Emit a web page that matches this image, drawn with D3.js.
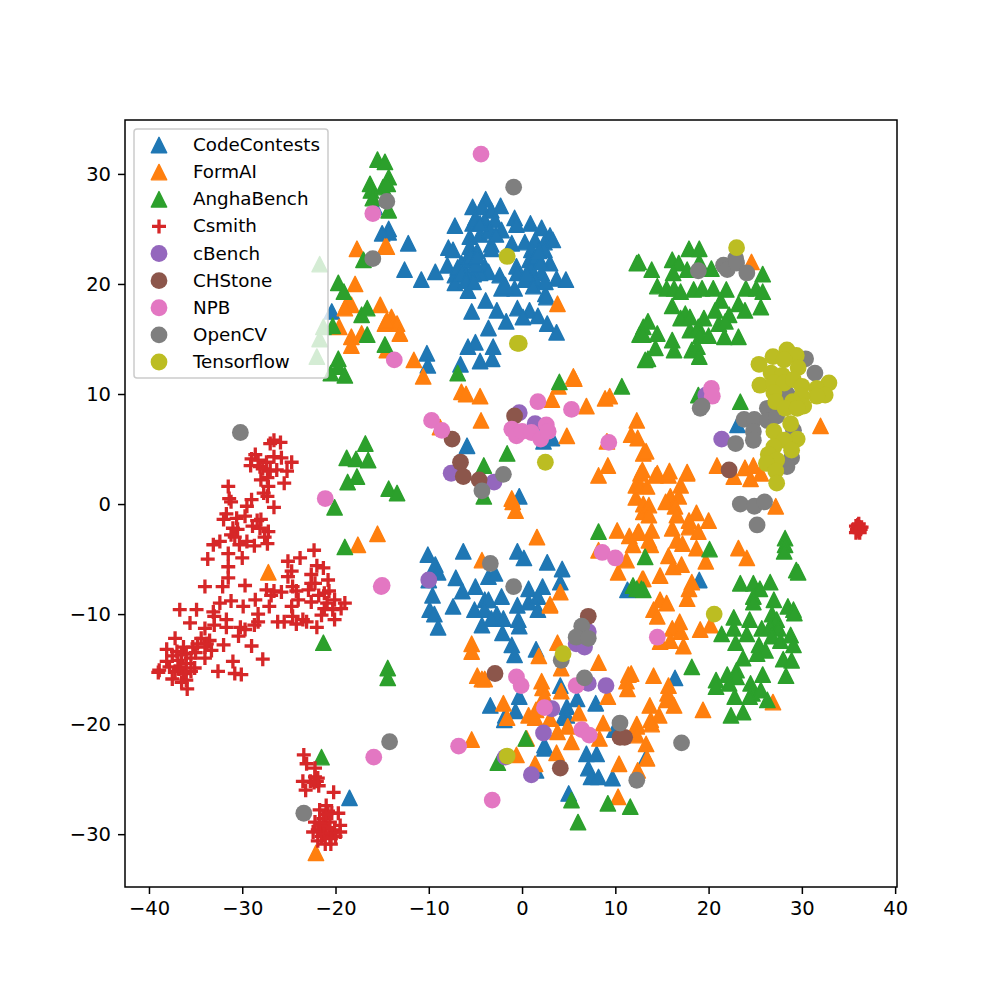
<!DOCTYPE html>
<html>
<head>
<meta charset="utf-8">
<script src="https://cdn.jsdelivr.net/npm/d3@7"></script>
<style>
  body { margin: 0; background: #fff; }
  text { font-family: "DejaVu Sans", sans-serif; fill: #000; }
</style>
</head>
<body>
<svg id="chart" width="997" height="997"></svg>
<script>
// values, [x, y] per point
const codeContests = [[-7.2,25.3],[-5.3,27],[-3.9,27.7],[-2.3,27.1],[-4.3,27],[-3.3,26.7],[-5.3,25.5],[-4,25.8],[-2.9,25.8],[-2.2,24.9],[-0.8,26],[-0.6,25.4],[0.9,25.5],[2.1,25.1],[3,24.4],[3.3,24],[-7.9,23.3],[-7.4,23.1],[-5.6,24.3],[-5.6,23.4],[-3.3,23.6],[-3.3,23.2],[-1.1,23.7],[0.3,23.8],[1.4,24],[2.4,23.8],[1,23.1],[2.4,23.1],[-8,21.7],[-6.5,21.9],[-5.4,22.2],[-6.3,21.3],[-7.2,20.8],[-7.2,20.1],[-4,21.6],[-3.6,21.1],[-2.4,20.8],[-2.2,19.6],[-0.8,19.6],[-5.8,19.4],[-0.6,21.6],[-0.5,21],[0.8,22.2],[1,21.4],[3,21.9],[2.1,21],[1.4,20.4],[0.3,20.4],[3.7,20.5],[4.7,20.4],[-12.2,23.7],[-12.6,21.3],[-10.8,20.4],[-9.3,21.1],[2.5,19.1],[2.6,18.8],[-3.9,18.5],[-5.4,17.5],[-2.7,17.6],[-0.5,17.8],[0.8,17.6],[0.1,17],[1.7,17.1],[-1.7,16.6],[2.7,16.4],[3.7,15.6],[-3.6,16],[-5,14.7],[-5.8,14.3],[-3.1,14.3],[-3.2,13.2],[-4.5,13],[-6.6,12.7],[-10.2,13.7],[-10.1,12.6],[-14.3,25],[-14.3,24.7],[-4.5,24.5],[-3.5,24.8],[-4.8,23],[-5.9,22.3],[-4.5,21],[-5.2,20.9],[-6,21],[-6.9,21.5],[-15,24.6],[-15.8,27],[-20.4,17.5],
  [-5,26],[-3.5,25],[-4.5,25.5],[-2.8,24.5],[-5.5,22.5],[-5,21.8],[-4.8,22.5],[-6.5,21],[-6,20.3],[-5.2,20.2],[1.5,22.5],[2,22],[1.8,23],[0.5,21],[1.2,19.8],[2.5,20.2],[-1.8,19.9],
  [-10.1,-4.6],[-9.3,-5.5],[-9,-6.2],[-6.3,-4.3],[-0.5,-4.3],[0.2,-4.9],[2.7,-5.3],[4.3,-5.9],[4.1,-7.1],[-10,-6.9],[-7.1,-6.7],[-6.4,-7.9],[-5,-7.5],[-9.6,-8.3],[-7.4,-9.3],[-9.9,-9.6],[-9.4,-10],[-9,-11.2],[-3.6,-6.6],[-2.9,-6.3],[-2.2,-8.4],[-4,-8.7],[-3.6,-8.7],[-5.1,-9.6],[-4,-9.6],[-2.7,-10],[-3.3,-10.4],[-2,-10.4],[-4.3,-11],[-0.5,-9.2],[0.7,-7.7],[0.7,-8.9],[2.2,-7.5],[1.7,-8.4],[1.7,-9.6],[-0.4,-10.5],[-0.3,-11.1],[11.3,-7.8],[-0.3,0.7],[-5.9,5.3],[2.3,5.7],[3.2,6],
  [-2.1,-11.7],[-1.1,-12.8],[-0.8,-13.7],[1.5,-13.2],[4.1,-16.5],[-3.4,-18.3],[-0.3,-17.5],[-0.7,-18.8],[-1.8,-19.2],[-1.9,-19.6],[4.8,-18.4],[4.8,-19.2],[5.9,-17.7],[7.9,-18.1],[4.4,-19.4],[9.9,-20.5],[2.4,-21.9],[2.4,-22.2],[6.9,-22.7],[8,-22.7],[7.1,-24],[7.4,-24.8],[8.2,-24.8],[9.7,-24.9],[1.5,-24.2],[5,-26.3],[13.3,-23],[-18.5,-26.7],[19,-6.9],[16.4,-15.8],[23.1,7.2]];

const formAI = [[-17.7,23.2],[-14.7,23.4],[-17.9,20],[-18.8,18.2],[-18.3,18.1],[-19,17.8],[-15.2,18.1],[-19.6,16.1],[-18.3,15.2],[-18.3,14.4],[-17.2,15.5],[-14.7,16.4],[-14.5,23.4],[-14,17],[-13.4,16.4],[-13.1,15.5],[-14.5,16.7],[-11.6,13.1],[-10.6,11.6],[3.8,18.2],[5.5,11.6],[-14.5,14],
  [-6.5,10.2],[-6,10],[-4.5,9.8],[-4.4,7.6],[-8.8,7],[3.2,9.5],[3.9,10.7],[5.6,11.4],[6.9,8.9],[8.9,9.6],[9.4,9.8],[4.8,6.2],[12.3,7.6],[11.7,6.3],[12.4,6],[9.1,5.7],[9.2,3.5],[8.2,2.6],[13,4.6],[12.7,2.8],[12.2,1.7],[12.2,0.6],[-1.1,0.5],[-1,0.2],[-0.7,-0.6],[1.6,-3],[-4.3,-5.1],[10.2,-2.4],[11.5,-2.9],[12.4,-2.6],[11.9,-3.7],[8.2,-4.2],[11.2,-5.1],[10.3,-6.2],[12.9,-6.8],[4.1,-8],[3,-9.1],[13,-0.7],[13,0],[-27.2,-6.2],[-17.6,-3.7],[-15.5,-2.7],
  [12.7,1.7],[14.3,2.6],[13.4,1.6],[15.7,2.6],[17.7,2.8],[17,1.7],[15.9,0.7],[15.4,0.2],[16.8,0.7],[16.4,-0.2],[13.6,-0.1],[13.6,-1],[16.6,-1],[18.7,-0.8],[20,-1.5],[17.9,-1.5],[17.9,-2.1],[18.9,-2.5],[16.1,-2.2],[13.9,-2.4],[12.5,-2.5],[13.6,-3.3],[13.8,-3.7],[16.6,-3.3],[17.2,-3.6],[18.7,-4],[19.7,-5.2],[15.7,-4.7],[16.2,-5.7],[17.1,-5.5],[14.8,-6.5],[13,-6.8],[18.2,-7.1],[17.9,-7.7],[17.7,-8.6],[14.8,-8.7],[15.5,-9],[14.1,-9.6],[14.5,-10.2],[16.9,-10.7],[16.1,-11.3],[17,-11.6],[19.1,-11.4],[20.2,-11],[15.9,-12.4],[14.8,-12.5],[17.3,-12.9],[23.2,-4],[24.1,-4.9],[27.2,-0.2],[14.1,-15.6],[15.7,-16.5],[15.6,-17.2],[15.5,-17.8],[16.3,-18.3],[13.7,-18.3],[14.7,-19.2],[13.8,-19.6],[13.9,-20],[19.4,-18.7],[26.9,-18],[12.3,-20],
  [24.6,22],[32,7.1],[13.3,4.8],[12.9,3.1],[14.5,2.8],[15.8,3],[17.7,2.9],[20.9,3.5],[23.9,3.3],[24.8,3.5],[22.7,2.5],[25.6,2.8],[24.5,2.3],
  [3,-9.2],[-5.4,-12.7],[-5.4,-13.4],[3.8,-12.6],[1.8,-13.8],[4.2,-14.9],[8.2,-14.4],[-4.8,-15.6],[-4.3,-15.9],[-4,-15.9],[2.1,-16.1],[2.2,-16.7],[2.4,-17.4],[4.2,-17],[9.2,-17.5],[11.4,-15.5],[11.7,-15.4],[11.2,-16.1],[11.3,-16.8],[-2,-18.1],[-1.6,-19.4],[0.7,-19.2],[1.4,-19.4],[1.5,-18.7],[3,-19.5],[6.1,-19],[4.9,-20.2],[3.8,-20.7],[5.3,-21.6],[8.7,-19.9],[8.3,-21.3],[12.3,-20.2],[12.3,-21],[13.3,-21.8],[13.4,-23.1],[-5.4,-21.4],[0.5,-21.3],[-0.6,-22.8],[3.7,-22.6],[1.4,-23.6],[10.4,-23.6],[12.4,-24.2],[10.3,-26.6],[-22.1,-31.7]];

const anghaBench = [[-15.5,31.3],[-16.3,29.1],[-16.2,28.5],[-16,27.8],[-14.7,31.1],[-14.9,28.8],[-17,22.2],[-19.7,20.1],[-19.1,19.3],[-17.2,17.2],[-16.6,17.8],[-20.3,16.2],[-16.6,15.4],[-19.7,13.2],[-19.7,12.5],[-19,11.7],[-14.7,14.5],[-21.7,21.8],[-21.3,16.1],[-21.7,15],[-22,13.4],[-20.5,11.9],[-14.3,29.7],[-14.4,29.1],[-14.3,26.7],
  [-6.9,11.9],[12.3,21.9],[13,16.1],[12.6,15.4],[13.2,13.1],[4,11.1],[10.7,10.7],[-1.6,4.6],[-4.1,3.5],[-4.1,0.7],[-14.3,1.4],[-13.4,1],[8.2,-2.5],[11.9,-7.4],[12.8,-7.7],
  [-16.8,5.5],[-18.8,4.2],[-17.8,4.1],[-16.5,4],[-17.7,2.5],[-18.7,2],[-20.1,-0.3],[-19,-3.9],[-21.3,-12.6],[-14.4,-14.9],[-14.4,-15.8],
  [28.2,-3.1],[28.2,-3.7],[28.1,-4.3],[20.1,-4.1],[13.2,-4.8],[29.4,-6],[29.6,-6.2],[13,-7.8],[12.3,-7.7],[23.4,-7.2],[24.8,-7.2],[25.5,-7.7],[26.6,-7.1],[24.8,-8.4],[24.8,-8.9],[27,-8.7],[28.5,-9.3],[29.1,-9.6],[29.2,-9.9],[18.2,-14.8],[22.7,-10.3],[22.7,-11.3],[21.4,-11.8],[24.4,-10.5],[24.1,-11.8],[26.8,-10],[27.3,-10.5],[25.7,-11.3],[26.6,-11.1],[27.5,-11.3],[26.8,-12],[27.7,-12.4],[28.8,-11.9],[29.1,-12.8],[22.9,-12.6],[25.4,-12.8],[26.1,-13.3],[25.2,-13.6],[23.7,-14],[28,-14.1],[28.9,-14.2],[25.8,-15.5],[28.3,-15.6],[23,-15.1],[22,-15.5],[20.8,-16],[20.8,-16.6],[23,-15.7],[24.5,-16.3],[24.7,-17.2],[25.6,-16.9],[22.8,-17.5],[24.4,-17.5],[26.3,-17.8],[22.4,-19.2],[23.7,-18.9],[22.2,-16.3],
  [17.9,23.2],[19,23.2],[12.5,22],[13.9,21.3],[16.1,22.2],[16.8,21.9],[16.2,21],[17.7,21.3],[19,22],[20.3,21.4],[25.8,20.9],[14.5,19.8],[15.5,19.6],[16.3,19.6],[17,19.3],[18.4,19.5],[19.3,19.6],[20.5,19.6],[21.9,19.5],[24,19.6],[25.1,19.6],[25.8,19.3],[16.1,18],[23.2,18.2],[21.3,18.5],[25.6,17.9],[23.9,17.6],[20.7,17.6],[17.5,17.3],[17,16.9],[18,17],[19.5,16.9],[22.2,17.2],[21.1,16.4],[21.8,16.6],[13.5,16.6],[18,15.8],[18.9,16.1],[19.1,15.3],[20,15.3],[21.7,15.2],[23.2,15.2],[13,15.4],[14.5,15.5],[16.1,14.9],[14.3,14.2],[16.3,14],[18.2,14],[18.8,14.3],[13.5,13.2],[19,13.4],[18.9,9.9],[23.4,9.3],
  [-21.5,-23],[5.3,-26.9],[6,-28.9],[9.2,-27.2],[11.6,-27.5],[0.4,-21.3],[-2.6,-23.5]];

const csmith = [[-27,5.5],[-26.6,5.8],[-25.9,5.6],[-28.6,4.5],[-29,4.1],[-29.1,3.5],[-27.4,3.8],[-25.8,4.2],[-24.7,3.8],[-26.3,3.1],[-28.1,3.4],[-25.5,1.9],[-28,2.2],[-27.2,1.6],[-31.5,1.6],[-31.4,0.5],[-31.2,0.2],[-29,0.4],[-29.5,-0.2],[-26.6,-0.3],[-27.3,0.7],[-31.7,-0.9],[-32,-1.4],[-30.6,-1.3],[-29.7,-1.1],[-28,-1.4],[-28.9,-2],[-28.1,-2.2],[-31,-2.2],[-27.2,-2.5],[-31.2,-2.8],[-27.6,-3],[-29.5,-3.4],[-30.3,-3.7],[-28.7,-3.8],[-27.3,-3.6],[-32.4,-3.4],[-33.1,-3.7],[-31.5,-4.5],[-30,-4.9],[-33.7,-5],[-31.5,-5.7],[-31.5,-6.7],[-22.3,-4.2],[-25.1,-5.2],[-23.8,-4.9],[-22,-5.6],[-21.3,-5.8],[-22.6,-6.4],[-24.7,-6.1],[-25.1,-6.6],[-20.8,-6.9],[-22.2,-7.2],[-34,-7.5],[-32.1,-7.5],[-29.7,-7.4],[-24.6,-7.5],[-27.4,-7.8],[-25.8,-8],[-26.9,-8.3],[-22.9,-7.8],[-28.6,-8.7],[-31.2,-8.8],[-32.4,-9],[-29.9,-9.3],[-27.1,-9.3],[-24,-8.7],[-24.7,-9.3],[-22.6,-8.9],[-21.2,-8.1],[-20.1,-8.7],[-19,-9],[-21.2,-9.5],[-19.4,-9.5],[-36.7,-9.6],[-34.9,-9.6],[-33.1,-9.8],[-28.3,-10],[-33,-10.2],[-31.7,-10.5],[-21.5,-10.1],[-20.1,-10.5],[-24.6,-10.2],[-26.2,-10.7],[-35.6,-10.8],[-28.3,-10.7],[-28.7,-11],[-30.2,-11.2],[-29.7,-11.4],[-31.7,-11.2],[-33,-11],[-34,-11.3],[-23.1,-10.7],[-22,-11.2],[-25.5,-10.7],[-37.2,-12.2],[-34.4,-12.2],[-33.5,-12.4],[-32,-12.8],[-29,-12.9],[-38.1,-13.2],[-36.3,-13],[-35.3,-13],[-34,-13],[-33.3,-13.3],[-36,-13.6],[-27.8,-14.1],[-34,-14],[-38.1,-14.3],[-36.9,-14.2],[-36,-14.5],[-31,-14.3],[-32.6,-15.2],[-38.9,-15.1],[-37.2,-15.2],[-35.1,-14.9],[-36.3,-15.4],[-30.8,-15.4],[-30.1,-15.5],[-39,-15.3],[-37.5,-15.9],[-36,-16],[-35.9,-16.8],
  [-36.5,-13.7],[-37,-13.4],[-35.5,-14],[-37.8,-14.8],[-36.6,-14.8],[-34.8,-12.7],[-33.8,-12.7],[-35,-13.5],[-37.5,-13.8],[-36.8,-15],[-35.5,-15.2],[-36.5,-16.2],[-28.3,4],[-27.8,3.2],[-27,3],[-26.6,4.3],[-25.2,3],[-27.3,2.4],[-27.7,1],[-30.5,-2.3],[-30.8,-3],[-28.4,-1.5],[-22.6,-7.2],[-20.9,-9],[-20.3,-9.6],[-21.8,-8.3],[-24.2,-7.9],[-23.5,-10.5],[-24.2,-10.9],[-20.7,-7.9],[-26.6,-7.9],[-30.4,-12],
  [-23.4,-22.8],[-23.1,-23.6],[-22.2,-24],[-23.5,-25.2],[-23.2,-26],[-22.2,-24.8],[-22,-25.2],[-22.7,-25.2],[-21.8,-25.6],[-20.2,-26.2],[-21,-27.4],[-21.7,-27.8],[-20.4,-28.1],[-19.7,-28.1],[-22.2,-28.9],[-21.3,-28.6],[-20.6,-28.9],[-19.5,-29.2],[-21.9,-29.6],[-21,-29.5],[-20.1,-29.6],[-19.5,-29.8],[-22.4,-29.8],[-21.5,-30.2],[-20.6,-30.2],[-21.9,-30.6],[-21.1,-30.9],[-20.5,-30.9],[-20,-30.2],[-21.3,-29.2],[-20.7,-29.4],[-21.2,-30],[-20.4,-29.9],[-21.7,-29],[-20.8,-27.9],[-21,-28.2],[-20.5,-30.4],[-22.3,-25.3],[-21.9,-24.9],
  [36,-2.2],[36.2,-2.1],[35.9,-2.3],[36.1,-2.5],[36.3,-2.3],[36,-1.9],[35.8,-2],[36.4,-2.1],[36.2,-2.6],[35.8,-2.6],[36.1,-1.8]];

const cBench = [[-0.3,8.3],[1.4,7.3],[-7.6,2.8],[-3,2],[-10,-6.9],[7.1,-11.6],[5.8,-12.7],[6.7,-13],[19.7,9.9],[21.4,5.9],[3.2,-18.6],[2.3,-20.8],[-1.8,-23],[1,-24.6],[7.1,-16.3],[9,-16.5]];

const chStone = [[-0.8,8],[-7.5,5.9],[-6.6,3.8],[-6.3,2.5],[-4.6,2.2],[22.2,3.1],[7.1,-10.2],[-2.9,-15.4],[10.5,-21.2],[11,-21.2],[4.1,-24]];

const npb = [[-4.4,31.8],[-16,26.4],[-13.7,13.1],[-21.1,0.5],[-15.1,-7.5],[-15,-7.4],[-15.9,-23],[-9.7,7.6],[-8.6,6.7],[1.7,9.3],[5.3,8.6],[9.3,5.6],[-1.1,6.8],[-0.6,6.2],[0,6.6],[1,6.5],[2,5.9],[2.6,7.2],[2.8,6.6],[8.6,-4.4],[10,-4.9],[14.5,-12.1],[-6.8,-22],[-0.6,-15.7],[-0.1,-16.5],[2.4,-18.5],[5.8,-16.5],[6.4,-20.5],[7.2,-21],[-3.2,-26.9],[20.3,10.5],[20.4,9.8]];

const openCV = [[-30.2,6.5],[-0.9,28.8],[-14.5,27.5],[-16,22.3],[-23.4,-28.1],[-14.2,-21.6],[18.9,21.2],[22.9,22.3],[21.6,21.7],[22,21.3],[23,21.9],[24.1,21],[19.1,8.7],[19.3,8.9],[30.4,13.2],[31.4,11.9],[28.4,10],[26.3,8.7],[23.8,7.7],[24.9,7.7],[26.3,7.6],[27.3,8],[24.8,6.6],[24.8,5.8],[22.9,5.5],[29.1,6.7],[28.9,4.2],[28.4,3.4],[23.4,0],[24.9,-0.2],[26,0.2],[25.2,-1.9],[-2,2.7],[-4.3,1.2],[-3.4,-5.4],[-0.9,-7.5],[6.4,-11.1],[5.8,-12.1],[7.1,-12.2],[4.2,-14.2],[6.7,-15.8],[10.5,-19.9],[12.3,-25.1],[17.1,-21.7]];

const tensorflow = [[-1.6,22.5],[-0.5,14.6],[-0.3,14.6],[2.5,3.8],[23,23.3],[25.4,12.7],[26.9,13.4],[28.4,14],[29.4,13.5],[28.1,13.1],[29.6,12.4],[26.7,11.9],[27.9,11.7],[25.5,10.8],[27,11],[28.1,11],[29.1,11.3],[30,10.7],[32.9,11],[31.6,10.5],[32.5,9.9],[31.6,9.8],[27,10.1],[27.2,9.3],[30,9.8],[30.2,8.9],[29,9.3],[28.2,8.7],[29.5,8.7],[28.8,7.3],[27,6.6],[29.5,5.9],[28.1,5.8],[28.9,4.9],[27,5.2],[26.4,4.5],[27.3,4],[26.2,3.7],[27.2,3],[27.3,1.9],[20.6,-10],[4.4,-13.6],[-1.6,-22.9]];

const xTicks = [-40, -30, -20, -10, 0, 10, 20, 30, 40];
const yTicks = [-30, -20, -10, 0, 10, 20, 30];

const seriesNames = ["CodeContests", "FormAI", "AnghaBench", "Csmith", "cBench", "CHStone", "NPB", "OpenCV", "Tensorflow"];
const seriesData = [codeContests, formAI, anghaBench, csmith, cBench, chStone, npb, openCV, tensorflow];
const seriesMarkers = ["tri", "tri", "tri", "plus", "dot", "dot", "dot", "dot", "dot"];
const seriesColors = ["#1f77b4", "#ff7f0e", "#2ca02c", "#d62728", "#9467bd", "#8c564b", "#e377c2", "#7f7f7f", "#bcbd22"];

// axes box in page pixels
const left = 125, right = 897, top_ = 120, bottom = 887;

const svg = d3.select("#chart");

const x = d3.scaleLinear().domain([-42.57, 40.2]).range([left, right]);
const y = d3.scaleLinear().domain([34.9, -34.8]).range([top_, bottom]);

// draws one marker of a series at the translate of its group
function drawMarker(sel, kind, color) {
  if (kind == "tri") {
    sel.append("path")
      .attr("d", "M0,-7.7L7.7,7.7L-7.7,7.7Z")
      .attr("fill", color)
      .attr("stroke", color)
      .attr("stroke-width", 1.4)
      .attr("stroke-linejoin", "round");
  } else if (kind == "plus") {
    sel.append("path")
      .attr("d", "M-7,0H7M0,-7V7")
      .attr("fill", "none")
      .attr("stroke", color)
      .attr("stroke-width", 3.3);
  } else {
    sel.append("circle")
      .attr("r", 8.4)
      .attr("fill", color);
  }
}

seriesData.forEach(function (points, i) {
  svg.append("g")
    .attr("class", "series")
    .selectAll("g")
    .data(points)
    .enter()
    .append("g")
    .attr("transform", function (d) { return "translate(" + x(d[0]) + "," + y(d[1]) + ")"; })
    .call(drawMarker, seriesMarkers[i], seriesColors[i]);
});

// axes
const xAxis = svg.append("g")
  .attr("transform", "translate(0," + bottom + ")")
  .call(d3.axisBottom(x).tickValues(xTicks).tickSize(7).tickPadding(7).tickSizeOuter(0).tickFormat(d3.format("d")));
const yAxis = svg.append("g")
  .attr("transform", "translate(" + left + ",0)")
  .call(d3.axisLeft(y).tickValues(yTicks).tickSize(7).tickPadding(7).tickSizeOuter(0).tickFormat(d3.format("d")));

[xAxis, yAxis].forEach(function (a) {
  a.selectAll(".domain").remove();
  a.selectAll("line").attr("stroke", "#000").attr("stroke-width", 1.5);
  a.selectAll("text").attr("font-size", 19.5).attr("font-family", "DejaVu Sans");
});

svg.append("rect")
  .attr("x", left)
  .attr("y", top_)
  .attr("width", right - left)
  .attr("height", bottom - top_)
  .attr("fill", "none")
  .attr("stroke", "#000")
  .attr("stroke-width", 1.5);

// legend
const legend = svg.append("g").attr("class", "legend");
legend.append("rect")
  .attr("x", 134)
  .attr("y", 129)
  .attr("width", 194)
  .attr("height", 249)
  .attr("rx", 3)
  .attr("fill", "#fff")
  .attr("fill-opacity", 0.8)
  .attr("stroke", "#ccc")
  .attr("stroke-width", 1.5);

const rows = d3.scalePoint().domain(seriesNames).range([145, 362]);

seriesNames.forEach(function (name, i) {
  legend.append("g")
    .attr("transform", "translate(159," + rows(name) + ")")
    .call(drawMarker, seriesMarkers[i], seriesColors[i]);
  legend.append("text")
    .attr("x", 193)
    .attr("y", rows(name) + 6)
    .attr("font-size", 18.3)
    .text(name);
});
</script>
</body>
</html>
